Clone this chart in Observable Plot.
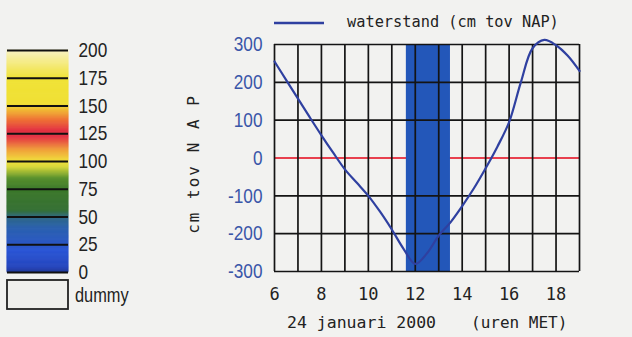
<!DOCTYPE html>
<html>
<head>
<meta charset="utf-8">
<script src="https://cdn.jsdelivr.net/npm/d3@7"></script>
<script src="https://cdn.jsdelivr.net/npm/@observablehq/plot@0.6"></script>
<style>
  html, body { margin: 0; padding: 0; background: #f2f2f0; }
  #wrap { position: relative; width: 632px; height: 337px; overflow: hidden; background: #f2f2f0; }
  #wrap > * { position: absolute; left: 0; top: 0; }
</style>
</head>
<body>
<div id="wrap"></div>
<script>
// ---- data ----
const hours  = [6, 6.5, 7, 7.5, 8, 8.5, 9, 9.5, 10, 10.5, 11, 11.5, 12, 12.5, 13, 13.5, 14, 14.5, 15, 15.5, 16, 16.5, 17, 17.5, 18, 18.5, 19];
const levels = [255, 206, 157, 108, 60, 14, -30, -65, -100, -142, -189, -240, -280, -252, -205, -170, -127, -80, -27, 30, 95, 200, 290, 312, 298, 270, 230];
const xTicks = [6, 8, 10, 12, 14, 16, 18];
const gridHours = [6, 7, 8, 9, 10, 11, 12, 13, 14, 15, 16, 17, 18, 19];
const yTicks = [-300, -200, -100, 0, 100, 200, 300];
const referenceLevel = [0];
const highlightStart = [11.62];
const highlightEnd = [13.5];
const legendTicks = [0, 25, 50, 75, 100, 125, 150, 175, 200];
const legendStopValues = [0, 5, 20, 25, 40, 50, 56, 75, 85, 95, 100, 110, 122, 128, 138, 148, 152, 175, 200];
const legendStopColors = ["#1e3696", "#2646be", "#2a56d6", "#2a56c6", "#2a60ae", "#2e6884", "#357034", "#3c782a", "#58902c", "#d6d63a", "#f0e03a", "#f0a43a", "#e43444", "#e23242", "#ef7434", "#f0c634", "#f0e034", "#f0e236", "#f8f2c0"];
const seriesLabel = "waterstand (cm tov NAP)";
const xTitleDate = "24 januari 2000";
const xTitleUnit = "(uren MET)";
const yTitle = "cm tov N A P";
const dummyLabel = "dummy";

const series = hours.map((h, i) => ({hour: h, level: levels[i]}));
const highlight = highlightStart.map((s, i) => ({start: s, end: highlightEnd[i]}));

const wrap = document.getElementById("wrap");
const narrowFont = '"Liberation Sans", Arial, sans-serif';
const monoFont = '"DejaVu Sans Mono", monospace';
const squeeze = 0.82;

// squeeze a text horizontally around its anchor point (vertical attributes untouched)
function narrow(el, k) {
  const x = parseFloat(el.getAttribute("x")) || 0;
  el.removeAttribute("x");
  const t = el.getAttribute("transform") || "";
  el.setAttribute("transform", `${t} translate(${x},0) scale(${k},1)`);
}

// ---- main chart ----
const main = Plot.plot({
  width: 632, height: 337,
  marginLeft: 274, marginRight: 53, marginTop: 44, marginBottom: 66,
  style: {background: "transparent", overflow: "visible"},
  x: {domain: [6, 19]},
  y: {domain: [-300, 300]},
  marks: [
    Plot.ruleY(referenceLevel, {stroke: "#e8404e", strokeWidth: 2}),
    Plot.rect(highlight, {x1: "start", x2: "end", fill: "#2357b9"}),
    Plot.ruleX(gridHours, {stroke: "#141414", strokeWidth: 1.7}),
    Plot.ruleY(yTicks.filter(d => !referenceLevel.includes(d)), {stroke: "#141414", strokeWidth: 1.7}),
    Plot.line(series, {x: "hour", y: "level", curve: "catmull-rom", stroke: "#2f40a0", strokeWidth: 2.2}),
    Plot.axisX(xTicks, {tickSize: 0, tickPadding: 16, label: null, tickFormat: d => String(d),
      fontFamily: monoFont, fontSize: 17, fill: "#222"}),
    Plot.axisY(yTicks, {tickSize: 0, tickPadding: 12, label: null, tickFormat: d => String(d),
      fontFamily: narrowFont, fontSize: 21, fill: "#3a56a8"})
  ]
});
wrap.appendChild(main);
d3.select(main).selectAll("text").filter(function() {
  return this.closest('[aria-label="y-axis tick label"]');
}).each(function() { narrow(this, squeeze); });

// ---- colour legend ----
const bands = d3.range(0, 200, 1);
const legend = Plot.plot({
  width: 200, height: 337,
  marginLeft: 7, marginRight: 132, marginTop: 50, marginBottom: 65,
  style: {background: "transparent", overflow: "visible"},
  x: {axis: null, domain: [0, 1]},
  y: {axis: null, domain: [0, 200]},
  color: {type: "linear", domain: legendStopValues, range: legendStopColors, interpolate: "rgb"},
  marks: [
    Plot.rect(bands, {y1: d => d, y2: d => d + 1, fill: d => d + 0.5, stroke: d => d + 0.5, strokeWidth: 0.8}),
    Plot.ruleY(legendTicks, {stroke: "#111", strokeWidth: 2.2}),
    Plot.text(legendTicks, {y: d => d, text: d => String(d), frameAnchor: "right", dx: 10,
      textAnchor: "start", fontFamily: narrowFont, fontSize: 21, fill: "#222"})
  ]
});
wrap.appendChild(legend);
d3.select(legend).selectAll("text").each(function() { narrow(this, squeeze); });

// ---- overlay texts & legend entries ----
const svg = d3.create("svg").attr("width", 632).attr("height", 337).style("overflow", "visible");
svg.append("rect").attr("x", 7).attr("y", 280).attr("width", 61).attr("height", 29)
  .attr("fill", "#efefec").attr("stroke", "#222").attr("stroke-width", 1.8);
const dummyText = svg.append("text").attr("x", 75).attr("y", 295).attr("dy", "0.35em")
  .attr("font-family", narrowFont).attr("font-size", 20).attr("fill", "#222").text(dummyLabel);
narrow(dummyText.node(), squeeze);
svg.append("line").attr("x1", 274).attr("x2", 324).attr("y1", 23).attr("y2", 23)
  .attr("stroke", "#2f40a0").attr("stroke-width", 2.5);
svg.append("text").attr("x", 347).attr("y", 22).attr("dy", "0.35em")
  .attr("font-family", monoFont).attr("font-size", 15.3).attr("fill", "#222").text(seriesLabel);
svg.append("text").attr("x", 287).attr("y", 322).attr("dy", "0.35em")
  .attr("font-family", monoFont).attr("font-size", 16.5).attr("fill", "#222").text(xTitleDate);
svg.append("text").attr("x", 471).attr("y", 322).attr("dy", "0.35em")
  .attr("font-family", monoFont).attr("font-size", 16).attr("fill", "#222").text(xTitleUnit);
svg.append("text").attr("transform", "translate(193,164) rotate(-90)")
  .attr("text-anchor", "middle").attr("dy", "0.35em")
  .attr("font-family", monoFont).attr("font-size", 16).attr("letter-spacing", 2)
  .attr("fill", "#222").text(yTitle);
wrap.appendChild(svg.node());
</script>
</body>
</html>
